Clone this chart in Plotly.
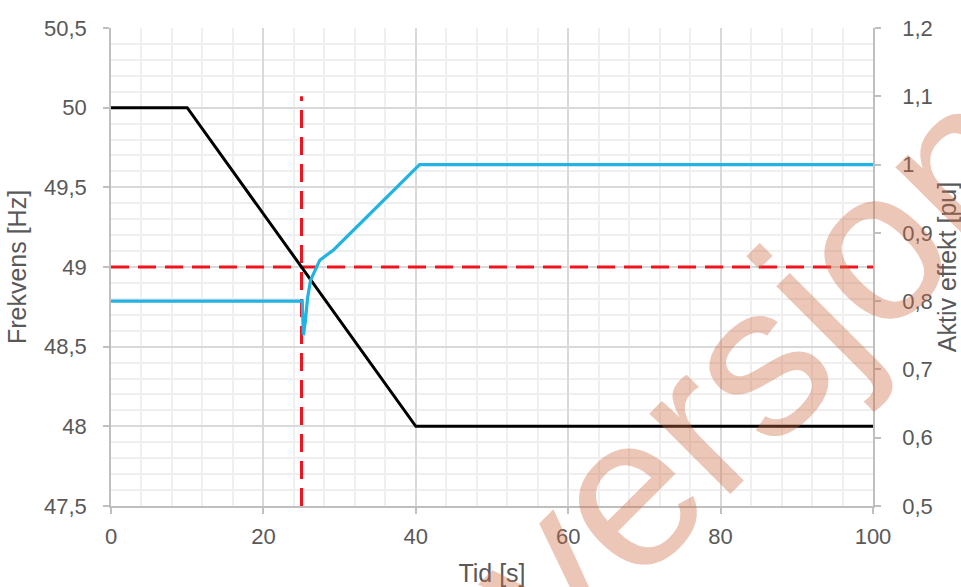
import plotly.graph_objects as go

# Frequency (left axis)
freq_time = [0, 10, 40, 100]
freq_hz = [50, 50, 48, 48]

# Active power (right axis)
power_time = [0, 25.1, 25.25, 25.5, 25.8, 26.2, 27.4, 29.2, 40.5, 100]
power_pu = [0.80, 0.80, 0.75, 0.77, 0.805, 0.831, 0.86, 0.875, 1.0, 1.0]

# Reference lines
hline_time = [0, 100]
hline_hz = [49, 49]
vline_time = [25, 25]
vline_pu = [0.5, 1.1]

FONT = "Liberation Sans, Arial, sans-serif"
TXT = "#595959"
AX = "#bfbfbf"
RED = "#f0141e"

fig = go.Figure()
fig.add_trace(go.Scatter(x=hline_time, y=hline_hz, mode="lines",
                         line=dict(color=RED, width=3, dash="18px,9px"),
                         showlegend=False, hoverinfo="skip"))
fig.add_trace(go.Scatter(x=vline_time, y=vline_pu, mode="lines", yaxis="y2",
                         line=dict(color=RED, width=3, dash="18px,9px"),
                         showlegend=False, hoverinfo="skip"))
fig.add_trace(go.Scatter(x=freq_time, y=freq_hz, mode="lines",
                         line=dict(color="black", width=3),
                         showlegend=False))
fig.add_trace(go.Scatter(x=power_time, y=power_pu, mode="lines", yaxis="y2",
                         line=dict(color="#21b3e3", width=3.2),
                         showlegend=False))

fig.update_layout(
    width=961, height=587,
    margin=dict(l=111, r=88, t=28, b=81),
    paper_bgcolor="white", plot_bgcolor="white",
    separators=", ",
    font=dict(family=FONT, size=22, color=TXT),
    xaxis=dict(range=[0, 100], dtick=20, tick0=0, automargin=False,
               showgrid=True, gridcolor="#d9d9d9", gridwidth=1.5,
               minor=dict(dtick=4, showgrid=True, gridcolor="#efefef", gridwidth=1.5),
               showline=True, linecolor=AX, linewidth=1.5,
               ticks="outside", ticklen=6, tickcolor=AX, tickwidth=1.5,
               ticklabelstandoff=4,
               tickfont=dict(size=22, color=TXT), zeroline=False,
               title=dict(text="Tid [s]", font=dict(size=25, color=TXT), standoff=16)),
    yaxis=dict(range=[47.5, 50.5], dtick=0.5, tick0=47.5, automargin=False,
               showgrid=True, gridcolor="#d9d9d9", gridwidth=1.5,
               minor=dict(dtick=0.1, showgrid=True, gridcolor="#efefef", gridwidth=1.5),
               showline=True, linecolor=AX, linewidth=1.5,
               ticks="outside", ticklen=6, tickcolor=AX, tickwidth=1.5,
               ticklabelstandoff=12,
               tickfont=dict(size=22, color=TXT), zeroline=False,
               title=dict(text="Frekvens [Hz]", font=dict(size=25, color=TXT), standoff=10)),
    yaxis2=dict(range=[0.5, 1.2], dtick=0.1, tick0=0.5, overlaying="y", side="right",
                automargin=False, showgrid=False, zeroline=False,
                showline=True, linecolor=AX, linewidth=1.5,
                ticks="outside", ticklen=6, tickcolor=AX, tickwidth=1.5,
                ticklabelstandoff=17,
                tickfont=dict(size=22, color=TXT),
                title=dict(text="Aktiv effekt [pu]", font=dict(size=25, color=TXT), standoff=8)),
)

fig.add_annotation(text="Høringsversjon", xref="paper", yref="paper",
                   x=0.4895, y=-0.2678, xanchor="center", yanchor="middle",
                   showarrow=False, textangle=-45,
                   font=dict(family=FONT, size=216, color="rgba(205,105,65,0.38)"))

fig.write_html("out.html", config={"displayModeBar": False},
               post_script="document.body.style.margin='0px';")
